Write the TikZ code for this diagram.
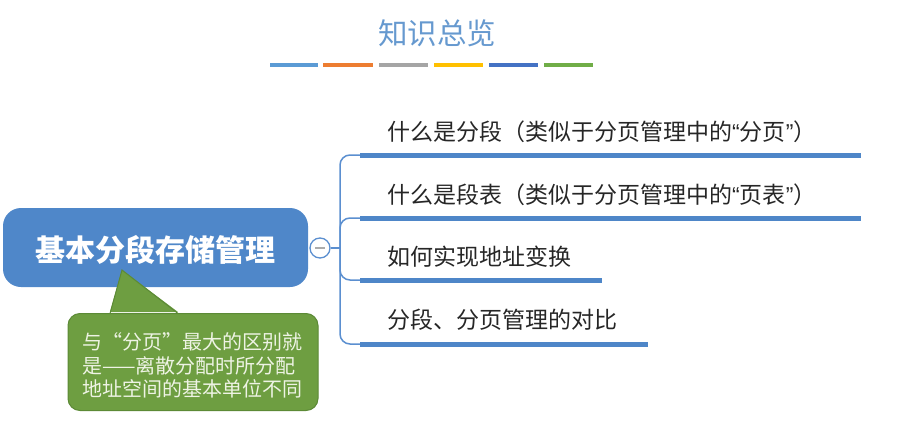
\documentclass[tikz,border=0pt]{standalone}
\usepackage{fontspec}
\setmainfont{Noto Sans CJK SC}
\newfontfamily\latinq{Liberation Sans}
\definecolor{titleblue}{HTML}{6699CF}
\definecolor{boxblue}{HTML}{4F87C9}
\definecolor{lineblue}{HTML}{4E86C8}
\definecolor{branchblue}{HTML}{5B8FD0}
\definecolor{calgreen}{HTML}{6E9E41}
\definecolor{calborder}{HTML}{5C8A36}
\definecolor{caltext}{HTML}{EEF3E4}
\definecolor{b1}{HTML}{5B9BD5}
\definecolor{b2}{HTML}{ED7D31}
\definecolor{b3}{HTML}{A5A5A5}
\definecolor{b4}{HTML}{FFC000}
\definecolor{b5}{HTML}{4472C4}
\definecolor{b6}{HTML}{70AD47}
\begin{document}
\begin{tikzpicture}[x=1pt,y=-1pt,
  bar/.style={line width=4.5pt},
  uline/.style={line width=5pt, draw=lineblue},
  branch/.style={draw=branchblue, line width=1.5pt, rounded corners=10pt},
  topic/.style={anchor=west, inner sep=0pt, font=\fontsize{23}{24}\selectfont, text=black!85},
  calltext/.style={anchor=west, inner sep=0pt, font=\fontsize{20}{21}\selectfont, text=caltext}]
\useasboundingbox (0,0) rectangle (899,436);
% title
\node[font=\fontsize{29.5}{30}\selectfont, text=titleblue] (title) at (437,33) {知识总览};
\draw[bar, b1] (270,65) -- (318,65);
\draw[bar, b2] (323,65) -- (373,65);
\draw[bar, b3] (379,65) -- (428,65);
\draw[bar, b4] (434,65) -- (483,65);
\draw[bar, b5] (489,65) -- (538,65);
\draw[bar, b6] (544,65) -- (593,65);
% main node
\node[fill=boxblue, rounded corners=18pt, minimum width=305pt, minimum height=79pt, inner sep=0pt] (main) at (155.5,247.5) {};
\node[text=white, font=\fontsize{30}{30}\selectfont\bfseries] (maintext) at (155,250) {基本分段存储管理};
% collapse circle
\node[circle, draw=branchblue, line width=1.3pt, fill=white, minimum size=20pt, inner sep=0pt] (col) at (320,248) {};
\draw[line width=2.5pt, gray!65] ([xshift=-5pt]col.center) -- ([xshift=5pt]col.center);
% branches
\coordinate (j) at (340,248);
\coordinate (u1s) at (360,155); \coordinate (u1e) at (861,155);
\coordinate (u2s) at (360,218); \coordinate (u2e) at (861,218);
\coordinate (u3s) at (360,280); \coordinate (u3e) at (602,280);
\coordinate (u4s) at (360,344); \coordinate (u4e) at (648,344);
\draw[branchblue, line width=1.5pt] (col.east) -- (j);
\draw[branch] (j) |- (u1s);
\draw[branch] (j) |- (u2s);
\draw[branch] (j) |- (u3s);
\draw[branch] (j) |- (u4s);
\draw[uline] (u1s) -- (u1e);
\draw[uline] (u2s) -- (u2e);
\draw[uline] (u3s) -- (u3e);
\draw[uline] (u4s) -- (u4e);
\node[topic] (t1) at (387,132) {什么是分段（类似于分页管理中的{\latinq “}分页{\latinq ”}）};
\node[topic] (t2) at (387,195) {什么是段表（类似于分页管理中的{\latinq “}页表{\latinq ”}）};
\node[topic] (t3) at (387,257) {如何实现地址变换};
\node[topic] (t4) at (387,320) {分段、分页管理的对比};
% callout
\node[fill=calgreen, draw=calborder, line width=1pt, rounded corners=12pt, minimum width=250pt, minimum height=97pt, inner sep=0pt] (call) at (193,362) {};
\coordinate (apex) at (122,270);
\coordinate (pl) at (110,313.5);
\coordinate (pr) at (178,313.5);
\fill[calgreen] ([yshift=1.5pt]pl) -- (apex) -- ([yshift=1.5pt]pr) -- cycle;
\draw[calborder, line width=1pt] (pl) -- (apex) -- (pr);
\node[calltext] (c1) at (82,342) {与“分页”最大的区别就};
\node[calltext] (c2) at (82,366) {是——离散分配时所分配};
\node[calltext] (c3) at (82,389) {地址空间的基本单位不同};
\end{tikzpicture}
\end{document}
